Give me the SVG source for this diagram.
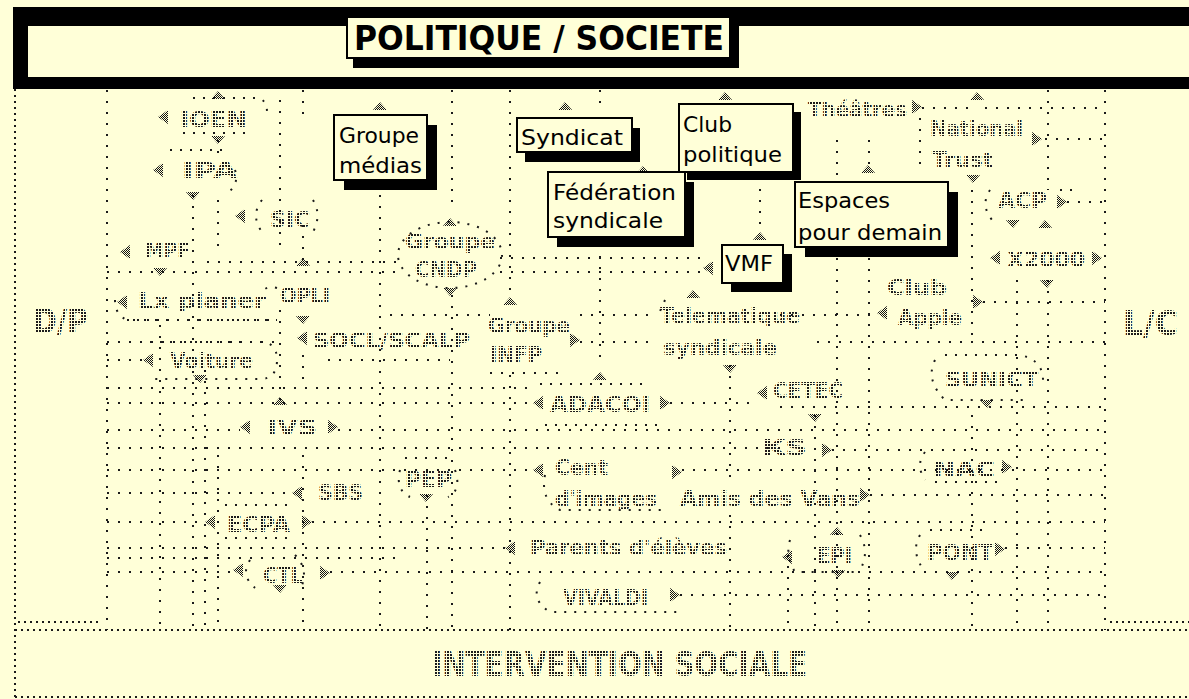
<svg xmlns="http://www.w3.org/2000/svg" width="1189" height="699" viewBox="0 0 1189 699">
<defs>
<pattern id="gp" width="3" height="3" patternUnits="userSpaceOnUse"><rect x="0" y="0" width="2" height="2" fill="#1a1a1a"/></pattern>
<pattern id="tp" width="2" height="2" patternUnits="userSpaceOnUse"><rect x="0" y="0" width="1" height="1" fill="#111"/><rect x="1" y="1" width="1" height="1" fill="#111"/></pattern>
<style>
.d{fill:none;stroke:#1a1a1a;stroke-width:2;stroke-dasharray:2 9}
.dd{fill:none;stroke:#1a1a1a;stroke-width:2;stroke-dasharray:2 4}
.o{fill:none;stroke:#1a1a1a;stroke-width:2;stroke-dasharray:2 8}
.g{font-family:"DejaVu Sans",sans-serif;font-size:21px;font-weight:bold;fill:url(#gp)}
.gb{font-family:"DejaVu Sans Condensed","DejaVu Sans",sans-serif;font-size:33px;font-weight:bold;fill:url(#gp)}
.t{fill:url(#tp)}
.bx{fill:#FFFFD8;stroke:#000;stroke-width:2}
.sh{fill:#000}
.bt{font-family:"DejaVu Sans",sans-serif;font-size:21px;fill:#000}
</style>
</defs>
<rect x="0" y="0" width="1189" height="699" fill="#FFFFD8"/>

<g id="frame">
<rect x="13" y="7" width="1190" height="82" fill="#000"/>
<rect x="28" y="26" width="1170" height="51" fill="#FFFFD8"/>
<rect x="353" y="26" width="386" height="42" fill="#000"/>
<rect x="347" y="17" width="383" height="41" fill="#FFFFD8" stroke="#000" stroke-width="2"/>
<text x="354" y="50" textLength="370" lengthAdjust="spacingAndGlyphs" style="font-family:'DejaVu Sans Condensed','DejaVu Sans',sans-serif;font-size:33px;font-weight:bold;fill:#000">POLITIQUE / SOCIETE</text>
<path class="dd" d="M15 89V697M15 697H1189M15 630H1189"/>
<path class="dd" d="M18 622H100M1110 622H1189" stroke-dasharray="2 3"/>
<text class="gb" x="432" y="676" textLength="375" lengthAdjust="spacingAndGlyphs">INTERVENTION SOCIALE</text>
<text class="gb" x="33" y="333" textLength="55" lengthAdjust="spacingAndGlyphs">D/P</text>
<text class="gb" x="1123" y="335" textLength="55" lengthAdjust="spacingAndGlyphs">L/C</text>
</g>

<g id="connectors">
<path class="d" d="M107 90V630M1105 90V630M160 325V630M193 195V630M205 370V630M218 140V160M218 200V255M218 455V630M280 100V250M280 310V400M303 90V120M303 225V260M303 355V380M303 455V630M380 195V630M427 495V630M452 90V210M452 295V630M510 90V290M510 375V630M600 90V110M600 245V365M730 365V480M730 515V630M760 178V232M788 555V630M815 415V630M837 140V178M837 258V630M869 140V167M869 258V630M920 118V170M972 190V335M972 415V630M1017 280V630M1048 90V190M1048 280V630"/>
<path class="d" d="M922 108H975M985 108H1105M1045 139H1105M1067 202H1105M500 258H703M207 262H400M107 272H400M500 272H703M983 302H1105M390 315H490M580 315H650M780 315H877M133 320H277M107 342H283M580 342H650M817 342H1105M107 360H143M328 360H450M490 373H560M107 388H530M107 403H533M670 403H757M780 407H1105M107 430H240M338 430H1105M107 448H780M832 450H1105M107 470H533M682 470H1105M107 493H292M870 495H1105M107 522H205M312 522H1105M107 548H505M1005 548H1105M107 558H400M107 572H233M330 572H1105M680 595H1105"/>
<g class="o">
<path d="M193 98H255Q267 98 267 112M183 133H250"/>
<path d="M170 150H227M235 170Q240 185 225 195"/>
<path d="M262 200Q250 215 262 232M313 200Q322 215 313 232"/>
<ellipse cx="450" cy="255" rx="52" ry="33"/>
<path d="M127 320H277M115 300Q115 315 127 320M277 288Q267 285 262 292"/>
<path d="M150 342H260Q277 342 277 360Q277 379 260 379H150"/>
<path d="M540 384H650M545 425H660"/>
<path d="M945 355H1020Q1043 360 1043 380M935 360Q925 380 945 400H1030"/>
<path d="M925 452Q915 465 925 480M935 482H1000"/>
<path d="M860 535Q870 552 860 570M790 540Q785 555 795 572H860"/>
<path d="M920 535Q910 552 925 572M930 530H990"/>
<path d="M250 560Q240 575 255 588M295 555Q310 570 300 590"/>
<path d="M540 582Q530 600 550 612H680"/>
<path d="M400 470Q395 490 410 497M455 470Q462 490 448 497M405 458H450"/>
<path d="M545 475Q540 500 560 510H665"/>
<path d="M225 505H295M225 538H295"/>
<path d="M665 300L657 318"/>
<path d="M990 190Q980 205 992 220M1060 190H1075"/>
</g>
</g>

<g id="markers" class="t">
<path d="M158 117l10-7v14zM153 170l10-7v14zM235 216l10-7v14zM120 252l10-7v14zM117 302l10-7v14zM297 338l10-7v14zM143 360l10-7v14zM533 403l10-7v14zM757 393l10-7v14zM877 313l10-7v14zM240 427l10-7v14zM292 493l10-7v14zM533 470l10-7v14zM205 522l10-7v14zM505 548l10-7v14zM782 557l10-7v14zM233 570l10-7v14zM703 268l10-7v14zM990 258l10-7v14z"/>
<path d="M670 403l-10-7v14zM983 302l-10-7v14zM338 427l-10-7v14zM682 472l-10-7v14zM870 495l-10-7v14zM832 450l-10-7v14zM1012 467l-10-7v14zM312 522l-10-7v14zM1005 549l-10-7v14zM330 573l-10-7v14zM680 595l-10-7v14zM580 340l-10-7v14zM922 107l-10-7v14zM1042 139l-10-7v14zM1067 202l-10-7v14zM1102 258l-10-7v14z"/>
<path d="M218 91l7 8h-14zM380 102l7 8h-14zM565 102l7 8h-14zM725 92l7 8h-14zM643 166l7 8h-14zM760 232l7 8h-14zM868 165l7 8h-14zM450 218l7 8h-14zM303 258l7 8h-14zM510 297l7 8h-14zM693 290l7 8h-14zM600 372l7 8h-14zM280 397l7 8h-14zM837 527l7 8h-14zM977 92l7 8h-14zM1045 220l7 8h-14z"/>
<path d="M218 144l7-8h-14zM193 200l7-8h-14zM160 276l7-8h-14zM303 324l7-8h-14zM450 296l7-8h-14zM200 383l7-8h-14zM730 373l7-8h-14zM815 422l7-8h-14zM987 408l7-8h-14zM426 502l7-8h-14zM280 593l7-8h-14zM838 578l7-8h-14zM952 580l7-8h-14zM973 183l7-8h-14zM1013 228l7-8h-14zM1047 288l7-8h-14z"/>
</g>

<g id="ghost-labels">
<text class="g" x="180" y="127" textLength="67" lengthAdjust="spacingAndGlyphs">IOEN</text>
<text class="g" x="182" y="178" textLength="55" lengthAdjust="spacingAndGlyphs">IPA</text>
<text class="g" x="270" y="227" textLength="40" lengthAdjust="spacingAndGlyphs">SIC</text>
<text class="g" x="145" y="258" textLength="45" lengthAdjust="spacingAndGlyphs">MPF</text>
<text class="g" x="405" y="249" textLength="90" lengthAdjust="spacingAndGlyphs">Groupe</text>
<text class="g" x="415" y="277" textLength="62" lengthAdjust="spacingAndGlyphs">CNDP</text>
<text class="g" x="138" y="308" textLength="128" lengthAdjust="spacingAndGlyphs">Lx planer</text>
<text class="g" x="280" y="303" textLength="50" lengthAdjust="spacingAndGlyphs">OPLI</text>
<text class="g" x="313" y="348" textLength="157" lengthAdjust="spacingAndGlyphs">SOCL/SCALP</text>
<text class="g" x="170" y="368" textLength="83" lengthAdjust="spacingAndGlyphs">Voiture</text>
<text class="g" x="488" y="333" textLength="82" lengthAdjust="spacingAndGlyphs">Groupe</text>
<text class="g" x="490" y="362" textLength="52" lengthAdjust="spacingAndGlyphs">INFP</text>
<text class="g" x="660" y="323" textLength="140" lengthAdjust="spacingAndGlyphs">Telematique</text>
<text class="g" x="663" y="355" textLength="114" lengthAdjust="spacingAndGlyphs">syndicale</text>
<text class="g" x="550" y="412" textLength="100" lengthAdjust="spacingAndGlyphs">ADACOI</text>
<text class="g" x="773" y="398" textLength="70" lengthAdjust="spacingAndGlyphs">CETEC</text>
<text class="g" x="887" y="295" textLength="60" lengthAdjust="spacingAndGlyphs">Club</text>
<text class="g" x="898" y="325" textLength="64" lengthAdjust="spacingAndGlyphs">Apple</text>
<text class="g" x="945" y="387" textLength="93" lengthAdjust="spacingAndGlyphs">SUNICT</text>
<text class="g" x="267" y="435" textLength="50" lengthAdjust="spacingAndGlyphs">IVS</text>
<text class="g" x="318" y="500" textLength="45" lengthAdjust="spacingAndGlyphs">SBS</text>
<text class="g" x="405" y="487" textLength="47" lengthAdjust="spacingAndGlyphs">PEP</text>
<text class="g" x="555" y="475" textLength="53" lengthAdjust="spacingAndGlyphs">Cent</text>
<text class="g" x="555" y="506" textLength="102" lengthAdjust="spacingAndGlyphs">d'images</text>
<text class="g" x="680" y="506" textLength="180" lengthAdjust="spacingAndGlyphs">Amis des Vans</text>
<text class="g" x="762" y="455" textLength="45" lengthAdjust="spacingAndGlyphs">KS</text>
<text class="g" x="933" y="477" textLength="62" lengthAdjust="spacingAndGlyphs">NAC</text>
<text class="g" x="227" y="532" textLength="63" lengthAdjust="spacingAndGlyphs">ECPA</text>
<text class="g" x="530" y="555" textLength="197" lengthAdjust="spacingAndGlyphs">Parents d'élèves</text>
<text class="g" x="817" y="563" textLength="35" lengthAdjust="spacingAndGlyphs">EPI</text>
<text class="g" x="927" y="560" textLength="66" lengthAdjust="spacingAndGlyphs">PONT</text>
<text class="g" x="263" y="583" textLength="40" lengthAdjust="spacingAndGlyphs">CTL</text>
<text class="g" x="563" y="605" textLength="85" lengthAdjust="spacingAndGlyphs">VIVALDI</text>
<text class="g" x="808" y="117" textLength="99" lengthAdjust="spacingAndGlyphs">Théâtres</text>
<text class="g" x="930" y="136" textLength="93" lengthAdjust="spacingAndGlyphs">National</text>
<text class="g" x="932" y="167" textLength="61" lengthAdjust="spacingAndGlyphs">Trust</text>
<text class="g" x="998" y="208" textLength="49" lengthAdjust="spacingAndGlyphs">ACP</text>
<text class="g" x="1007" y="267" textLength="78" lengthAdjust="spacingAndGlyphs">X2000</text>
</g>

<g id="node-groupe-medias">
<rect class="sh" x="344" y="125" width="93" height="65"/>
<rect class="bx" x="334" y="115" width="93" height="65"/>
<text class="bt" x="339" y="143" textLength="80" lengthAdjust="spacingAndGlyphs">Groupe</text>
<text class="bt" x="339" y="173" textLength="83" lengthAdjust="spacingAndGlyphs">médias</text>
</g>
<g id="node-syndicat">
<rect class="sh" x="525" y="128" width="115" height="34"/>
<rect class="bx" x="517" y="118" width="115" height="34"/>
<text class="bt" x="521" y="145" textLength="102" lengthAdjust="spacingAndGlyphs">Syndicat</text>
</g>
<g id="node-club-politique">
<rect class="sh" x="687" y="112" width="114" height="68"/>
<rect class="bx" x="679" y="104" width="114" height="68"/>
<text class="bt" x="683" y="132" textLength="49" lengthAdjust="spacingAndGlyphs">Club</text>
<text class="bt" x="683" y="162" textLength="99" lengthAdjust="spacingAndGlyphs">politique</text>
</g>
<g id="node-federation">
<rect class="sh" x="557" y="182" width="137" height="65"/>
<rect class="bx" x="548" y="172" width="137" height="65"/>
<text class="bt" x="553" y="200" textLength="123" lengthAdjust="spacingAndGlyphs">Fédération</text>
<text class="bt" x="553" y="228" textLength="110" lengthAdjust="spacingAndGlyphs">syndicale</text>
</g>
<g id="node-espaces">
<rect class="sh" x="805" y="192" width="153" height="65"/>
<rect class="bx" x="795" y="182" width="153" height="65"/>
<text class="bt" x="798" y="208" textLength="92" lengthAdjust="spacingAndGlyphs">Espaces</text>
<text class="bt" x="798" y="240" textLength="144" lengthAdjust="spacingAndGlyphs">pour demain</text>
</g>
<g id="node-vmf">
<rect class="sh" x="731" y="254" width="61" height="38"/>
<rect class="bx" x="722" y="245" width="61" height="38"/>
<text class="bt" x="725" y="271" textLength="48" lengthAdjust="spacingAndGlyphs">VMF</text>
</g>
</svg>
